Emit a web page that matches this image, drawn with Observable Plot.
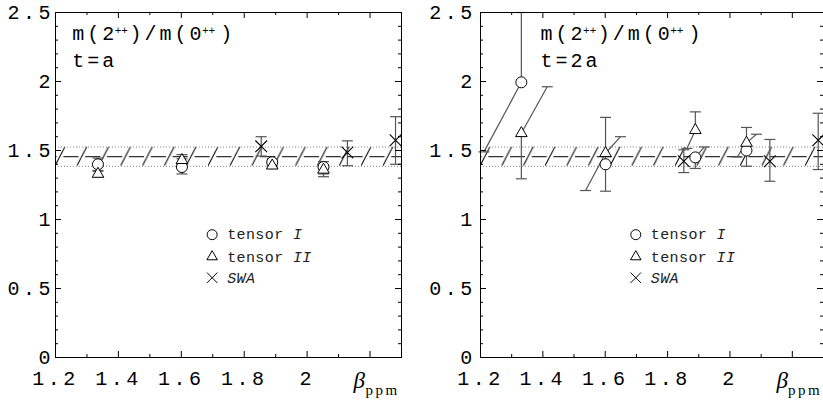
<!DOCTYPE html>
<html><head><meta charset="utf-8">
<script src="https://cdn.jsdelivr.net/npm/d3@7"></script>
<script src="https://cdn.jsdelivr.net/npm/@observablehq/plot@0.6"></script>
<style>
body{margin:0;background:#fff;}
#wrap{display:flex;width:823px;height:400px;overflow:hidden;background:#fff;}
#wrap svg{display:block;flex:none;}
</style></head><body><div id="wrap"></div>
<script>
// ---------- data ----------
const xDomain = [1.2, 2.3];
const yDomain = [0, 2.5];
const xTickValues = [1.2, 1.4, 1.6, 1.8, 2];
const xTickLabels = ["1.2", "1.4", "1.6", "1.8", "2"];
const xMajorTicks = [1.4, 1.6, 1.8, 2.0, 2.2];
const xMinorTicks = [1.3, 1.5, 1.7, 1.9, 2.1];
const yTickValues = [0, 0.5, 1, 1.5, 2, 2.5];
const yTickLabels = ["0", "0.5", "1", "1.5", "2", "2.5"];
const yMinorTicks = [0.1,0.2,0.3,0.4,0.6,0.7,0.8,0.9,1.1,1.2,1.3,1.4,1.6,1.7,1.8,1.9,2.1,2.2,2.3,2.4];

// continuum band m(2++)/m(0++)
const bandCenter = 1.455;
const bandLow = 1.385;
const bandHigh = 1.525;
const hatchStep = 0.0695;

// t = a
const tA_tensorI = [
  {beta: 1.335, m: 1.40,  lo: 1.35, hi: 1.445},
  {beta: 1.602, m: 1.38,  lo: 1.33, hi: 1.44},
  {beta: 1.889, m: 1.415, lo: 1.39, hi: 1.44},
  {beta: 2.052, m: 1.38,  lo: 1.31, hi: 1.42}
];
const tA_tensorII = [
  {beta: 1.335, m: 1.33,  lo: 1.31, hi: 1.355},
  {beta: 1.602, m: 1.43,  lo: 1.40, hi: 1.47},
  {beta: 1.889, m: 1.39,  lo: 1.37, hi: 1.41},
  {beta: 2.052, m: 1.36,  lo: 1.33, hi: 1.39}
];
const tA_swa = [
  {beta: 1.854, m: 1.53,  lo: 1.46, hi: 1.60},
  {beta: 2.128, m: 1.485, lo: 1.39, hi: 1.57},
  {beta: 2.281, m: 1.575, lo: 1.40, hi: 1.745}
];

// t = 2a  (betaLo / betaHi: end of a slanted error bar)
const t2A_tensorI = [
  {beta: 1.331, m: 1.994, lo: 1.49,  hi: 2.50, betaLo: 1.211},
  {beta: 1.601, m: 1.40,  lo: 1.205, hi: 1.74},
  {beta: 1.889, m: 1.45,  lo: 1.37,  hi: 1.526, betaHi: 1.918},
  {beta: 2.053, m: 1.50,  lo: 1.386, hi: 1.667}
];
const t2A_tensorII = [
  {beta: 1.331, m: 1.625, lo: 1.295, hi: 1.962, betaHi: 1.414},
  {beta: 1.601, m: 1.48,  lo: 1.21,  hi: 1.60,  betaLo: 1.537, betaHi: 1.649},
  {beta: 1.889, m: 1.647, lo: 1.515, hi: 1.78,  betaLo: 1.862},
  {beta: 2.053, m: 1.555, lo: 1.453, hi: 1.618, betaLo: 2.023, betaHi: 2.085}
];
const t2A_swa = [
  {beta: 1.852, m: 1.422, lo: 1.34,  hi: 1.505},
  {beta: 2.128, m: 1.422, lo: 1.277, hi: 1.58},
  {beta: 2.283, m: 1.575, lo: 1.362, hi: 1.77}
];

// legend
const legendBeta = 1.698;
const legendM = [0.89, 0.73, 0.578];
const legendSymbols = ["circle", "triangle", "times"];
const legendUpright = ["tensor", "tensor", ""];
const legendItalic = ["I", "II", "SWA"];

// title text pieces and which are superscripts
const titleParts = ["m(", "2", "++", ")/m(", "0", "++", ")"];
const titleSuper = [false, false, true, false, false, true, false];
const tLabels = ["t=a", "t=2a"];

// ---------- drawing ----------
const MONO = "'Liberation Mono', 'DejaVu Sans Mono', monospace";
const SERIF = "'Liberation Serif', 'DejaVu Serif', serif";
const ERR = "#555";
const capSymbol = {draw(ctx) { ctx.moveTo(-5.5, 0); ctx.lineTo(5.5, 0); }};
const legendR = {circle: 5, triangle: 3.9, times: 4.8};
const markR = {circle: 5.5, triangle: 4.3, times: 5.4};

function panel(cfg) {
  const {width, marginLeft, marginRight, series, tLabel, titleDx, yPad, id, betaDx, ppmDx} = cfg;
  const H = 400, mt = 12, mb = 43;
  const fw = width - marginLeft - marginRight, fh = H - mt - mb;
  const P = hatchStep * fw / (xDomain[1] - xDomain[0]);
  const lean = 10;
  const gap = 6.7;
  const bandRows = [{x1: xDomain[0], x2: xDomain[1], y1: bandLow, y2: bandHigh}];
  const hx = d => d.betaHi ?? d.beta;
  const lx = d => d.betaLo ?? d.beta;

  const marks = [
    Plot.rect(bandRows, {x1: "x1", x2: "x2", y1: "y1", y2: "y2", fill: `url(#hatch-${id})`}),
    Plot.ruleY([bandLow, bandHigh], {stroke: "#888", strokeWidth: 1, strokeDasharray: "1,2"}),
    Plot.ruleY([bandCenter], {stroke: "#000", strokeWidth: 1, strokeDasharray: `${(P - gap).toFixed(2)},${gap}`, strokeDashoffset: (P - (lean / 2 + gap / 2)).toFixed(2)})
  ];
  for (const s of series) {
    marks.push(Plot.link(s, {x1: "beta", y1: "m", x2: hx, y2: "hi", stroke: ERR, strokeWidth: 1.2}));
    marks.push(Plot.link(s, {x1: "beta", y1: "m", x2: lx, y2: "lo", stroke: ERR, strokeWidth: 1.2}));
    marks.push(Plot.dot(s, {x: hx, y: "hi", symbol: capSymbol, fill: "none", stroke: ERR, strokeWidth: 1.2}));
    marks.push(Plot.dot(s, {x: lx, y: "lo", symbol: capSymbol, fill: "none", stroke: ERR, strokeWidth: 1.2}));
  }
  marks.push(Plot.dot(series[0], {x: "beta", y: "m", symbol: "circle", r: markR.circle, fill: "white", stroke: "black", strokeWidth: 1}));
  marks.push(Plot.dot(series[1], {x: "beta", y: "m", symbol: "triangle", r: markR.triangle, fill: "white", stroke: "black", strokeWidth: 1}));
  marks.push(Plot.dot(series[2], {x: "beta", y: "m", symbol: "times", r: markR.times, fill: "none", stroke: "black", strokeWidth: 1.1}));

  // legend
  legendM.forEach((m, i) => {
    const row = [{beta: legendBeta, m}];
    marks.push(Plot.dot(row, {x: "beta", y: "m", symbol: legendSymbols[i], r: legendR[legendSymbols[i]], fill: "none", stroke: "black", strokeWidth: 1}));
    const pitch = 15 * 0.6 + 0.4;
    if (legendUpright[i]) marks.push(Plot.text(row, {x: "beta", y: "m", text: () => legendUpright[i], dx: 15, textAnchor: "start", lineAnchor: "middle", fontSize: 15, fill: "#222", ariaDescription: "legend"}));
    const off = legendUpright[i] ? 15 + (legendUpright[i].length + 1) * pitch : 15;
    marks.push(Plot.text(row, {x: "beta", y: "m", text: () => legendItalic[i], dx: off, textAnchor: "start", lineAnchor: "middle", fontSize: 15, fontStyle: "italic", fill: "#222", ariaDescription: "legend"}));
  });

  // title (one text element, superscripts added as tspans below)
  marks.push(Plot.text([titleParts.join("")], {text: d => d, frameAnchor: "top-left", dx: titleDx, dy: 27, textAnchor: "start", lineAnchor: "bottom", fontSize: 20, ariaDescription: "title-main"}));
  marks.push(Plot.text([tLabel], {text: d => d, frameAnchor: "top-left", dx: titleDx, dy: 54.7, textAnchor: "start", lineAnchor: "bottom", fontSize: 20, ariaDescription: "title"}));

  // beta_ppm label
  marks.push(Plot.text(["β"], {text: d => d, frameAnchor: "bottom-right", dx: betaDx, dy: 30, textAnchor: "start", lineAnchor: "bottom", fontFamily: SERIF, fontStyle: "italic", fontSize: 23}));
  marks.push(Plot.text(["ppm"], {text: d => d, frameAnchor: "bottom-right", dx: ppmDx, dy: 37, textAnchor: "start", lineAnchor: "bottom", fontFamily: SERIF, fontSize: 15, ariaDescription: "ppm"}));

  // inward ticks on all four sides
  marks.push(Plot.tickX(xMajorTicks, {x: d => d, insetTop: fh - 6, stroke: "black"}));
  marks.push(Plot.tickX(xMinorTicks, {x: d => d, insetTop: fh - 3, stroke: "black"}));
  marks.push(Plot.tickX(xMajorTicks, {x: d => d, insetBottom: fh - 6, stroke: "black"}));
  marks.push(Plot.tickX(xMinorTicks, {x: d => d, insetBottom: fh - 3, stroke: "black"}));
  marks.push(Plot.tickY(yTickValues, {y: d => d, insetRight: fw - 6, stroke: "black"}));
  marks.push(Plot.tickY(yMinorTicks, {y: d => d, insetRight: fw - 3, stroke: "black"}));
  marks.push(Plot.tickY(yTickValues, {y: d => d, insetLeft: fw - 6, stroke: "black"}));
  marks.push(Plot.tickY(yMinorTicks, {y: d => d, insetLeft: fw - 3, stroke: "black"}));
  marks.push(Plot.frame({stroke: "black", strokeWidth: 1}));

  const svg = Plot.plot({
    width, height: H, marginLeft, marginRight, marginTop: mt, marginBottom: mb,
    style: {fontFamily: MONO, fontSize: "20px", background: "white", color: "black"},
    x: {domain: xDomain, ticks: xTickValues, tickFormat: d => xTickLabels[xTickValues.indexOf(d)], tickSize: 0, tickPadding: 13, label: null},
    y: {domain: yDomain, ticks: yTickValues, tickFormat: d => yTickLabels[yTickValues.indexOf(d)], tickSize: 0, tickPadding: yPad, label: null},
    marks
  });

  // hatch pattern aligned with the band through Plot's scales
  const sx = svg.scale("x"), sy = svg.scale("y");
  const x0 = sx.apply(xDomain[0]);
  const Pp = sx.apply(xDomain[0] + hatchStep) - x0;
  const yTop = sy.apply(bandHigh), yBot = sy.apply(bandLow), h = yBot - yTop;
  const ns = "http://www.w3.org/2000/svg";
  const defs = document.createElementNS(ns, "defs");
  const pat = document.createElementNS(ns, "pattern");
  pat.setAttribute("id", `hatch-${id}`);
  pat.setAttribute("patternUnits", "userSpaceOnUse");
  pat.setAttribute("x", x0); pat.setAttribute("y", yTop);
  pat.setAttribute("width", Pp); pat.setAttribute("height", h);
  const ln = document.createElementNS(ns, "line");
  ln.setAttribute("x1", 0); ln.setAttribute("y1", h);
  ln.setAttribute("x2", lean); ln.setAttribute("y2", 0);
  ln.setAttribute("stroke", "black"); ln.setAttribute("stroke-width", 1);
  pat.appendChild(ln); defs.appendChild(pat);
  svg.insertBefore(defs, svg.firstChild);

  const sel = d3.select(svg);
  sel.selectAll('g[aria-label="x-axis tick label"] text, g[aria-label="y-axis tick label"] text').attr("letter-spacing", "3.5px");
  sel.selectAll('g[aria-description="title"] text').attr("letter-spacing", "3px");
  sel.selectAll('g[aria-description="legend"] text').attr("letter-spacing", "0.4px");
  sel.selectAll('g[aria-description="ppm"] text').attr("letter-spacing", "2.5px");

  // split title into spaced text + superscript tspans
  const afterSupDx = [1.5, 5];
  sel.selectAll('g[aria-description="title-main"] text').each(function() {
    const t = d3.select(this).text("");
    let k = 0;
    titleParts.forEach((p, i) => {
      const sp = t.append("tspan").text(p);
      if (titleSuper[i]) {
        sp.attr("dy", -6).attr("dx", 0.5).attr("font-size", 11).attr("letter-spacing", "0px");
      } else if (i > 0 && titleSuper[i - 1]) {
        sp.attr("dy", 6).attr("dx", afterSupDx[k++]).attr("letter-spacing", titleSuper[i + 1] ? "0px" : "3px");
      } else {
        sp.attr("letter-spacing", titleSuper[i + 1] ? "0px" : "3px");
      }
    });
  });
  return svg;
}

const wrap = document.getElementById("wrap");
wrap.appendChild(panel({width: 411, marginLeft: 55, marginRight: 10, series: [tA_tensorI, tA_tensorII, tA_swa], tLabel: tLabels[0], titleDx: 16.7, yPad: 1.5, id: "L", betaDx: -48, ppmDx: -36}));
wrap.appendChild(panel({width: 412, marginLeft: 69, marginRight: 0, series: [t2A_tensorI, t2A_tensorII, t2A_swa], tLabel: tLabels[1], titleDx: 60, yPad: 4.8, id: "R", betaDx: -47, ppmDx: -35.5}));
</script>
</body></html>
